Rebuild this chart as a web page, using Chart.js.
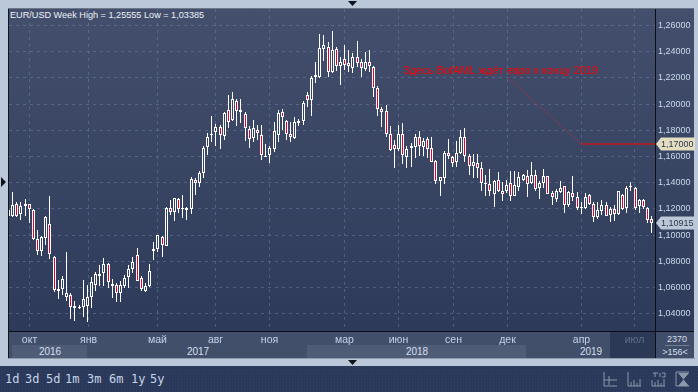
<!DOCTYPE html>
<html>
<head>
<meta charset="utf-8">
<script src="https://cdn.jsdelivr.net/npm/chart.js@4"></script>
<style>
  html, body { margin: 0; padding: 0; }
  body { width: 698px; height: 392px; position: relative; overflow: hidden; background: #bac8da; font-family: "Liberation Sans", Arial, sans-serif; }
  .box { position: absolute; }
  .txt { position: absolute; white-space: nowrap; line-height: 12px; }
  #plot { left: 9px; top: 9px; width: 685px; height: 322px; background: linear-gradient(#434f6c, #2d3a59); }
  #timeBar { left: 9px; top: 332px; width: 646px; height: 26px; background: #424f6b; }
  #countBox { left: 656px; top: 332px; width: 38px; height: 26px; background: #414e6a; }
  #bottomBar { left: 0; top: 366px; width: 698px; height: 26px; background-color: #2a3859; background-image: radial-gradient(#33426a 0.6px, transparent 0.7px); background-size: 3px 3px; }
  .year { color: #d5dfec; font-size: 10px; top: 346px; transform: translateX(-50%); }
  .period { color: #c6d4e6; font-family: "DejaVu Sans Mono", monospace; font-size: 12px; top: 373px; }
  canvas { position: absolute; left: 0; top: 0; }
  svg { position: absolute; left: 0; top: 0; }
</style>
</head>
<body>
<div class="box" id="plot"></div>
<div class="box" id="timeBar"></div>
<div class="box" style="left:12px;top:345px;width:75px;height:13px;background:#4e5c78"></div>
<div class="box" style="left:307px;top:345px;width:219px;height:13px;background:#4e5c78"></div>
<div class="box" style="left:610px;top:332px;width:45px;height:26px;background:#2b3856"></div>
<div class="box" id="countBox"></div>
<div class="box" style="left:8px;top:8px;width:1px;height:350px;background:#11151f"></div>
<div class="box" style="left:8px;top:8px;width:686px;height:1px;background:#6b7689"></div>
<div class="box" style="left:8px;top:331px;width:686px;height:1px;background:#0b0e16"></div>
<div class="box" style="left:655px;top:9px;width:1px;height:349px;background:#0b0e16"></div>
<div class="box" style="left:8px;top:358px;width:687px;height:1px;background:#8f9cb0"></div>
<div class="box" id="bottomBar"></div>

<div class="txt" style="left:10px;top:9px;color:#eef2f8;font-size:9.15px">EUR/USD Week High = 1,25555 Low = 1,03385</div>
<div class="txt year" style="left:50px">2016</div>
<div class="txt year" style="left:198px">2017</div>
<div class="txt year" style="left:417px">2018</div>
<div class="txt year" style="left:591px">2019</div>
<div class="txt" style="left:677px;top:333px;color:#d5dfec;font-size:9px;transform:translateX(-50%)">2370</div>
<div class="box" style="left:665px;top:345px;width:24px;height:1px;background:#6f7c94"></div>
<div class="txt" style="left:675px;top:346px;color:#d5dfec;font-size:9px;transform:translateX(-50%)">&gt;156&lt;</div>
<div class="txt period" style="left:5px">1d</div>
<div class="txt period" style="left:25px">3d</div>
<div class="txt period" style="left:46px">5d</div>
<div class="txt period" style="left:65px">1m</div>
<div class="txt period" style="left:87px">3m</div>
<div class="txt period" style="left:109px">6m</div>
<div class="txt period" style="left:131px">1y</div>
<div class="txt period" style="left:150px">5y</div>

<svg width="698" height="392">
  <path d="M348 1h9l-4.500 5z M1 177v10l5-5z M348 360h9l-4.500 5z" fill="#10141d"/>
  <g fill="none" stroke="#8b97aa" stroke-width="1">
    <path d="M604 372v14h13M604 380h13M609 376v9"/>
    <path d="M628 372v14h13M631 386v-4M634 386v-6M637 386v-3M640 386v-7"/>
    <path d="M652 380v6h13M655 386v-4M658 386v-6M661 386v-3M664 386v-7M653 373h5M655 373v4M660 373v4M662 373h3v4h-3"/>
    <path d="M676 372h13M676 386h13M676 372v14"/>
  </g>
  <path d="M678 373h11l-5.500 6.500z M678 386h11l-5.500-6.500z" fill="#8b97aa"/>
</svg>

<canvas id="chart" width="698" height="392"></canvas>

<script>
const yTicks = [1.04, 1.06, 1.08, 1.10, 1.12, 1.14, 1.16, 1.18, 1.20, 1.22, 1.24, 1.26];
const monthLabels = ["окт", "янв", "май", "авг", "ноя", "мар", "июн", "сен", "дек", "апр", "июл"];
const monthIndex = [5.07, 19.28, 35.91, 49.89, 62.9, 80.97, 93.98, 107.24, 120.25, 138.08, 150.85];

const highs = [
  1.1200,1.1327,1.1256,1.1251,1.1276,1.1238,1.1200,1.1040,1.0994,1.1147,
  1.1299,1.0842,1.0659,1.0687,1.0872,1.0560,1.0497,1.0469,1.0659,1.0621,
  1.0679,1.0718,1.0773,1.0824,1.0786,1.0664,1.0634,1.0647,1.0700,1.0776,
  1.0830,1.0903,1.0692,1.0637,1.0784,1.0947,1.1000,1.0995,1.1213,1.1272,
  1.1285,1.1285,1.1303,1.1218,1.1446,1.1438,1.1492,1.1684,1.1780,1.1909,
  1.1851,1.1840,1.1942,1.2071,1.2094,1.2038,1.2040,1.1939,1.1835,1.1881,
  1.1843,1.1843,1.1696,1.1684,1.1866,1.1952,1.1965,1.1881,1.1866,1.1901,
  1.1886,1.2025,1.2096,1.2217,1.2321,1.2539,1.2526,1.2476,1.25555,1.2433,
  1.2362,1.2450,1.2412,1.2387,1.2481,1.2344,1.2395,1.2410,1.2291,1.2139,
  1.1977,1.1995,1.1835,1.1729,1.1841,1.1856,1.1679,1.1701,1.1769,1.1795,
  1.1739,1.1749,1.1752,1.1570,1.1445,1.1643,1.1734,1.1607,1.1719,1.1802,
  1.1815,1.1617,1.1617,1.1617,1.1562,1.1461,1.1504,1.1423,1.1486,1.1405,
  1.1418,1.1491,1.1491,1.1486,1.1468,1.1494,1.1562,1.1494,1.1417,1.1506,
  1.1453,1.1336,1.1354,1.1417,1.1379,1.1341,1.1448,1.1329,1.1252,1.1321,
  1.1316,1.1252,1.1252,1.1265,1.1252,1.1214,1.1227,1.1341,1.1316,1.1379,
  1.1405,1.1367,1.1278,1.1278,1.1214,1.1146
];
const lows = [
  1.1142,1.1137,1.1137,1.1116,1.1147,1.1096,1.0964,1.0850,1.0845,1.0926,
  1.0819,1.0565,1.0514,1.0545,1.0499,1.0362,1.0349,1.0438,1.0375,1.03385,
  1.0443,1.0575,1.0613,1.0613,1.0596,1.0519,1.0489,1.0489,1.0598,1.0596,
  1.0713,1.0649,1.0573,1.0565,1.0604,1.0811,1.0868,1.0837,1.0919,1.1157,
  1.1106,1.1170,1.1129,1.1118,1.1164,1.1310,1.1367,1.1436,1.1610,1.1709,
  1.1684,1.1661,1.1729,1.1818,1.1868,1.1835,1.1856,1.1717,1.1668,1.1714,
  1.1729,1.1572,1.1598,1.1550,1.1633,1.1709,1.1805,1.1729,1.1709,1.1737,
  1.1830,1.1843,1.1982,1.1911,1.2164,1.2200,1.2331,1.2210,1.2235,1.2255,
  1.2147,1.2260,1.2248,1.2240,1.2286,1.2210,1.2255,1.2243,1.2051,1.1906,
  1.1823,1.1749,1.1641,1.1512,1.1641,1.1540,1.1512,1.1524,1.1587,1.1607,
  1.1607,1.1587,1.1557,1.1390,1.1296,1.1390,1.1582,1.1524,1.1524,1.1617,
  1.1562,1.1456,1.1435,1.1435,1.1334,1.1296,1.1301,1.1213,1.1329,1.1263,
  1.1321,1.1263,1.1301,1.1334,1.1410,1.1295,1.1392,1.1341,1.1278,1.1359,
  1.1311,1.1227,1.1252,1.1323,1.1168,1.1214,1.1260,1.1196,1.1163,1.1201,
  1.1227,1.1100,1.1125,1.1151,1.1143,1.1100,1.1107,1.1151,1.1189,1.1168,
  1.1336,1.1194,1.1171,1.1202,1.1092,1.1016
];
const opens = [
  1.1149,1.1149,1.1236,1.1159,1.1226,1.1236,1.1190,1.0969,1.0878,1.0977,
  1.1083,1.0834,1.0578,1.0593,1.0532,1.0542,1.0441,1.0441,1.0451,1.0458,
  1.0527,1.0618,1.0692,1.0710,1.0779,1.0626,1.0619,1.0560,1.0611,1.0682,
  1.0743,1.0850,1.0675,1.0573,1.0611,1.0883,1.0898,1.0990,1.0921,1.1208,
  1.1177,1.1277,1.1198,1.1208,1.1200,1.1423,1.1400,1.1471,1.1671,1.1765,
  1.1785,1.1828,1.1755,1.1954,1.1876,1.2025,1.1937,1.1924,1.1808,1.1739,
  1.1803,1.1762,1.1598,1.1613,1.1656,1.1765,1.1939,1.1871,1.1770,1.1744,
  1.1853,1.1868,1.2068,1.2030,1.2205,1.2210,1.2417,1.2433,1.2248,1.2417,
  1.2288,1.2341,1.2311,1.2276,1.2362,1.2319,1.2268,1.2324,1.2281,1.2121,
  1.1962,1.1944,1.1772,1.1689,1.1661,1.1772,1.1595,1.1668,1.1671,1.1746,
  1.1676,1.1731,1.1663,1.1564,1.1410,1.1435,1.1625,1.1595,1.1557,1.1625,
  1.1746,1.1602,1.1526,1.1549,1.1511,1.1390,1.1390,1.1314,1.1420,1.1337,
  1.1334,1.1397,1.1301,1.1367,1.1422,1.1453,1.1397,1.1463,1.1359,1.1400,
  1.1453,1.1321,1.1280,1.1329,1.1372,1.1232,1.1323,1.1290,1.1207,1.1209,
  1.1303,1.1240,1.1138,1.1184,1.1232,1.1156,1.1202,1.1158,1.1308,1.1207,
  1.1364,1.1362,1.1222,1.1265,1.1209,1.1125
];
const closes = [
  1.1193,1.1231,1.1149,1.1220,1.1236,1.1198,1.0969,1.0878,1.0984,1.1137,
  1.0855,1.0585,1.0591,1.0664,1.0557,1.0451,1.0458,1.0451,1.0512,1.0527,
  1.0641,1.0702,1.0705,1.0779,1.0641,1.0611,1.0557,1.0621,1.0675,1.0743,
  1.0797,1.0652,1.0586,1.0611,1.0728,1.0893,1.1000,1.0929,1.1205,1.1180,
  1.1282,1.1200,1.1208,1.1190,1.1431,1.1397,1.1472,1.1666,1.1749,1.1772,
  1.1828,1.1762,1.1934,1.1863,1.2040,1.1947,1.1954,1.1818,1.1734,1.1815,
  1.1777,1.1615,1.1608,1.1666,1.1795,1.1932,1.1899,1.1770,1.1749,1.1863,
  1.1871,1.2007,1.2030,1.2197,1.2220,1.2425,1.2455,1.2248,1.2410,1.2293,
  1.2319,1.2301,1.2288,1.2362,1.2316,1.2278,1.2324,1.2288,1.2126,1.1962,
  1.1939,1.1770,1.1648,1.1656,1.1770,1.1613,1.1658,1.1683,1.1746,1.1683,
  1.1716,1.1655,1.1562,1.1410,1.1443,1.1625,1.1602,1.1549,1.1625,1.1746,
  1.1602,1.1526,1.1557,1.1511,1.1397,1.1397,1.1337,1.1415,1.1337,1.1314,
  1.1380,1.1301,1.1380,1.1445,1.1456,1.1392,1.1463,1.1351,1.1400,1.1453,
  1.1316,1.1290,1.1334,1.1362,1.1232,1.1326,1.1290,1.1207,1.1214,1.1295,
  1.1240,1.1138,1.1194,1.1227,1.1148,1.1202,1.1163,1.1334,1.1202,1.1362,
  1.1372,1.1209,1.1265,1.1214,1.1118,1.10915
];

const targetPrice = 1.17;
const lastPrice = closes[closes.length - 1];
const noteText = "Здесь BofAML ждёт евро к концу 2019";
const noteAnchor = [95.07, 1.2255];
const pointerLine = [{ x: 120.4, y: 1.2205 }, { x: 138, y: 1.1696 }];
const targetLine = [{ x: 138, y: 1.1696 }, { x: 155.79, y: 1.1696 }];

const fmt = v => v.toFixed(5).replace(".", ",");

// снап к целым пикселям, иначе свечи размазываются
const snapBars = {
  id: "snapBars",
  beforeDatasetsDraw(chart) {
    chart.data.datasets.forEach((ds, i) => {
      if (ds.type === "line") return;
      chart.getDatasetMeta(i).data.forEach(el => {
        el.x = Math.floor(el.x) + 0.5;
        el.y = Math.round(el.y);
        el.base = Math.round(el.base);
      });
    });
  }
};

function priceTag(ctx, y, label, bg) {
  ctx.beginPath();
  ctx.moveTo(656, y);
  ctx.lineTo(661, y - 6.5);
  ctx.lineTo(695, y - 6.5);
  ctx.lineTo(695, y + 6.5);
  ctx.lineTo(661, y + 6.5);
  ctx.closePath();
  ctx.fillStyle = bg;
  ctx.fill();
  ctx.fillStyle = "#2e3648";
  ctx.textAlign = "left";
  ctx.textBaseline = "middle";
  ctx.font = "9px 'Liberation Sans'";
  ctx.fillText(label, 661, y + 0.5);
}

const overlays = {
  id: "overlays",
  afterDraw(chart) {
    const ctx = chart.ctx;
    const sx = chart.scales.x, sy = chart.scales.y;
    ctx.save();
    ctx.fillStyle = "#ff0000";
    ctx.font = "11px 'Liberation Sans'";
    ctx.textAlign = "left";
    ctx.textBaseline = "middle";
    ctx.fillText(noteText, sx.getPixelForValue(noteAnchor[0]), sy.getPixelForValue(noteAnchor[1]));
    priceTag(ctx, 144, fmt(targetPrice), "#e3dec2");
    priceTag(ctx, Math.round(sy.getPixelForValue(lastPrice)), fmt(lastPrice), "#bcc8d8");
    ctx.restore();
  }
};

const xs = closes.map((c, i) => i);
const isUp = xs.map(i => closes[i] >= opens[i]);

new Chart(document.getElementById("chart"), {
  type: "bar",
  data: {
    datasets: [
      {
        type: "line",
        data: pointerLine,
        borderColor: "#c0283c",
        borderWidth: 1,
        borderDash: [2, 2],
        pointRadius: 0,
        order: 1
      },
      {
        type: "line",
        data: targetLine,
        borderColor: "#a0222f",
        borderWidth: 2,
        pointRadius: 0,
        order: 0
      },
      {
        data: xs.map(i => ({ x: i, y: [opens[i], closes[i]] })),
        backgroundColor: xs.map(i => isUp[i] ? "#36435f" : "#e4002b"),
        borderColor: "#ffffff",
        borderWidth: 1,
        borderSkipped: false,
        barThickness: 3,
        grouped: false,
        inflateAmount: 0,
        order: 2
      },
      {
        data: xs.map(i => ({ x: i, y: [lows[i], highs[i]] })),
        backgroundColor: "#ffffff",
        borderWidth: 0,
        barThickness: 1,
        grouped: false,
        inflateAmount: 0,
        order: 3
      }
    ]
  },
  options: {
    responsive: false,
    animation: false,
    events: [],
    layout: { padding: { left: 9, top: 9, right: 4, bottom: 34 } },
    plugins: { legend: { display: false }, tooltip: { enabled: false } },
    scales: {
      x: {
        type: "linear",
        offset: false,
        min: 0.128,
        max: 155.79,
        afterBuildTicks: s => { s.ticks = monthIndex.map(v => ({ value: v })); },
        afterFit: s => { s.height = 27; },
        grid: { offset: false, color: "rgba(125,145,185,0.4)", drawTicks: false, tickLength: 0 },
        border: { display: false, dash: [3, 4] },
        ticks: {
          autoSkip: false,
          maxRotation: 0,
          padding: 3,
          font: { family: "Liberation Sans", size: 10.5 },
          color: ctx => ctx.index === monthLabels.length - 1 ? "#5f6e8c" : "#c2d3e8",
          callback: (v, i) => monthLabels[i]
        }
      },
      y: {
        position: "right",
        min: 1.0269,
        max: 1.2726,
        afterBuildTicks: s => { s.ticks = yTicks.map(v => ({ value: v })); },
        afterFit: s => { s.width = 39; },
        grid: { color: "rgba(125,145,185,0.4)", drawTicks: false, tickLength: 0 },
        border: { display: false, dash: [3, 4] },
        ticks: {
          padding: 3,
          font: { family: "Liberation Sans", size: 9 },
          color: "#cbd9ec",
          callback: v => fmt(v)
        }
      }
    }
  },
  plugins: [snapBars, overlays]
});
</script>
</body>
</html>
